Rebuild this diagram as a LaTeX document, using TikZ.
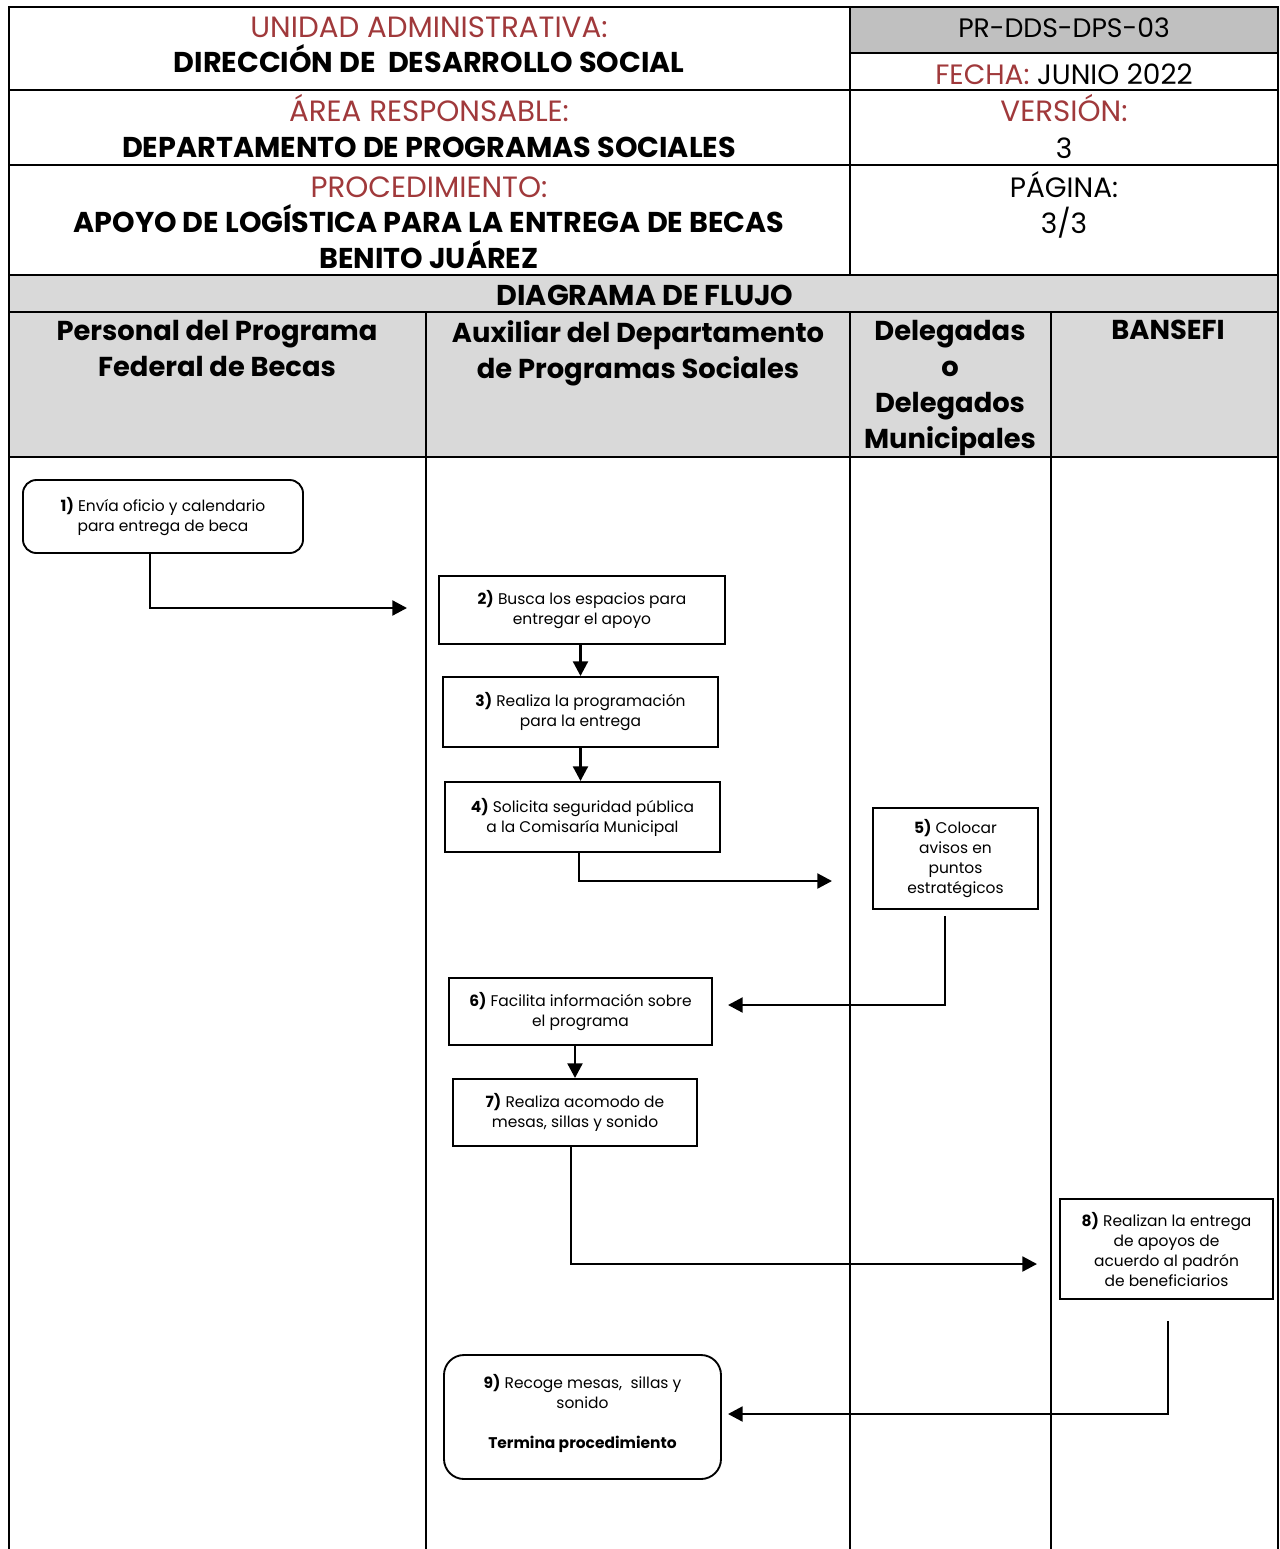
\documentclass[tikz,border=0pt]{standalone}
\usepackage{fontspec}
\setmainfont{Poppins}
\usetikzlibrary{calc,arrows.meta}
\definecolor{hdrred}{HTML}{A0393B}
\definecolor{grayA}{HTML}{C0C0C0}
\definecolor{grayB}{HTML}{D9D9D9}
\begin{document}
\begin{tikzpicture}[x=0.75pt,y=-0.75pt,
  hred/.style={text=hdrred,font=\fontsize{22}{24}\selectfont,inner sep=0pt,anchor=base},
  hbold/.style={font=\fontsize{21.5}{24}\selectfont\bfseries,inner sep=0pt,anchor=base},
  hplain/.style={font=\fontsize{21}{24}\selectfont,inner sep=0pt,anchor=base},
  lanehdr/.style={font=\fontsize{20.5}{27}\selectfont\bfseries,align=center,inner sep=0pt,anchor=north},
  stepbox/.style={draw,line width=1.4pt,align=center,inner sep=2pt,font=\fontsize{11.6}{15}\selectfont},
  endbox/.style={stepbox,rounded corners=10pt},
  arr/.style={line width=2.2pt,-{Triangle[length=11pt,width=11pt]}},
  hline/.style={line width=2.2pt},
  lline/.style={line width=1.4pt}]
\useasboundingbox (0,0) rectangle (1280,1549);
% fills
\fill[grayA] (850,7) rectangle (1278,53);
\fill[grayB] (9,275) rectangle (1278,457);
% header grid
\draw[lline] (9,1549) -- (9,7) -- (1278,7) -- (1278,1549);
\draw[hline] (850,53) -- (1278,53);
\draw[hline] (9,90) -- (1278,90);
\draw[hline] (9,165) -- (1278,165);
\draw[hline] (9,275) -- (1278,275);
\draw[hline] (9,312) -- (1278,312);
\draw[hline] (9,457) -- (1278,457);
\draw[lline] (850,7) -- (850,275);
% lanes
\draw[lline] (426,312) -- (426,1549);
\draw[lline] (850,312) -- (850,1549);
\draw[lline] (1051,312) -- (1051,1549);
% header texts
\node[hred] (t1) at (429,37) {UNIDAD ADMINISTRATIVA:};
\node[hbold] (t2) at (429,72) {DIRECCIÓN DE\ \ DESARROLLO SOCIAL};
\node[hplain,font=\fontsize{20}{24}\selectfont] (t3) at (1064,37) {PR-DDS-DPS-03};
\node[hplain] (t4) at (1064,84) {{\color{hdrred}FECHA:} JUNIO 2022};
\node[hred] (t5) at (429,121) {ÁREA RESPONSABLE:};
\node[hbold] (t6) at (429,157) {DEPARTAMENTO DE PROGRAMAS SOCIALES};
\node[hred] (t7) at (1064,121) {VERSIÓN:};
\node[hplain] (t8) at (1064,158) {3};
\node[hred] (t9) at (429,197) {PROCEDIMIENTO:};
\node[hbold] (t10) at (429,232) {APOYO DE LOGÍSTICA PARA LA ENTREGA DE BECAS};
\node[hbold] (t11) at (429,268) {BENITO JUÁREZ};
\node[hplain] (t12) at (1064,197) {PÁGINA:};
\node[hplain] (t13) at (1064,233) {3/3};
\node[hbold] (t14) at (645,305) {DIAGRAMA DE FLUJO};
% lane headers
\node[lanehdr] (l1) at (217,320) {Personal del Programa\\Federal de Becas};
\node[lanehdr] (l2) at (638,320) {Auxiliar del Departamento\\de Programas Sociales};
\node[lanehdr] (l3) at (950,320) {Delegadas\\o\\Delegados\\Municipales};
\node[lanehdr] (l4) at (1168,320) {BANSEFI};
% steps
\node[endbox,minimum width=210pt,minimum height=54.75pt] (n1) at (163,516.5) {\textbf{1)} Envía oficio y calendario\\para entrega de beca};
\node[stepbox,minimum width=214.5pt,minimum height=51pt] (n2) at (582,610) {\textbf{2)} Busca los espacios para\\entregar el apoyo};
\node[stepbox,minimum width=206.25pt,minimum height=52.5pt] (n3) at (580.5,712) {\textbf{3)} Realiza la programación\\para la entrega};
\node[stepbox,minimum width=206.25pt,minimum height=52.5pt] (n4) at (582.5,817) {\textbf{4)} Solicita seguridad pública\\a la Comisaría Municipal};
\node[stepbox,minimum width=123.75pt,minimum height=75.75pt] (n5) at (955.5,858.5) {\textbf{5)} Colocar\\avisos en\\puntos\\estratégicos};
\node[stepbox,minimum width=197.25pt,minimum height=50.25pt] (n6) at (580.5,1011.5) {\textbf{6)} Facilita información sobre\\el programa};
\node[stepbox,minimum width=183pt,minimum height=50.25pt] (n7) at (575,1112.5) {\textbf{7)} Realiza acomodo de\\mesas, sillas y sonido};
\node[stepbox,minimum width=159.75pt,minimum height=75pt] (n8) at (1166.5,1249) {\textbf{8)} Realizan la entrega\\de apoyos de\\acuerdo al padrón\\de beneficiarios};
\node[endbox,rounded corners=15pt,minimum width=207.75pt,minimum height=93pt] (n9) at (582.5,1417) {\textbf{9)} Recoge mesas,\ \ sillas y\\sonido\\[15pt]\textbf{Termina procedimiento}\\[-7pt]\mbox{}};
% connectors
\draw[arr] ($(n1.south)+(-13,0)$) |- ($(n2.west)+(-31,-2)$);
\draw[arr] (n2.south -| n3.north) -- (n3.north);
\draw[arr] (n3.south) -- (n3.south |- n4.north);
\draw[arr] ($(n4.south)+(-3.5,0)$) |- ($(n5.west)+(-40,22.5)$);
\draw[arr] ($(n5.south)+(-10.5,6)$) |- ($(n6.east)+(15,-6.5)$);
\draw[arr] (n6.south -| n7.north) -- (n7.north);
\draw[arr] ($(n7.south)+(-4,0)$) |- ($(n8.west)+(-22,15)$);
\draw[arr] ($(n8.south)+(1.5,21)$) |- ($(n9.east)+(6,-3)$);
\end{tikzpicture}
\end{document}
